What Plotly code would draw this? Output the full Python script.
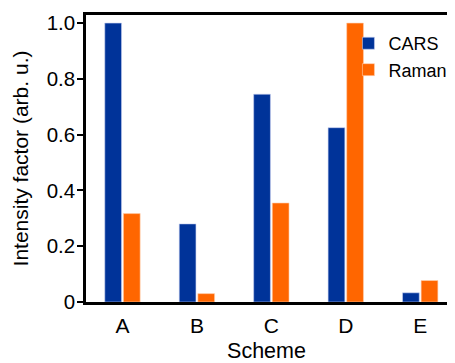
import plotly.graph_objects as go

categories = ["A", "B", "C", "D", "E"]
cars = [1.0, 0.28, 0.745, 0.625, 0.033]
raman = [0.317, 0.03, 0.355, 1.0, 0.077]
ytick_vals = [0, 0.2, 0.4, 0.6, 0.8, 1.0]
ytick_text = ["0", "0.2", "0.4", "0.6", "0.8", "1.0"]

font = "Liberation Sans, Arial, sans-serif"

fig = go.Figure()
fig.add_trace(go.Bar(x=categories, y=cars, name="CARS",
                     marker=dict(color="#003399", line=dict(color="#c8d0f0", width=0.6))))
fig.add_trace(go.Bar(x=categories, y=raman, name="Raman",
                     marker=dict(color="#FF6600", line=dict(color="#ffd0b0", width=0.6))))

fig.update_layout(
    width=447, height=363,
    margin=dict(l=86, r=0, t=15, b=61, autoexpand=False),
    paper_bgcolor="white", plot_bgcolor="white",
    barmode="group", bargap=0.5, bargroupgap=0.1,
    font=dict(family=font, color="black", size=20),
    legend=dict(x=0.727, y=0.965, xanchor="left", yanchor="top",
                font=dict(size=18), bgcolor="rgba(0,0,0,0)",
                tracegroupgap=0, itemwidth=30),
    showlegend=True,
)
fig.update_xaxes(
    range=[-0.49, 4.36], showline=True, linecolor="black", linewidth=2.5,
    mirror=True, ticks="", showgrid=False, zeroline=False,
    tickfont=dict(size=21), ticklabelstandoff=3,
    title=dict(text="Scheme", font=dict(size=21.5), standoff=8),
)
fig.update_yaxes(
    range=[0, 1.029], showline=True, linecolor="black", linewidth=2.5,
    ticks="outside", ticklen=6, tickwidth=2, tickcolor="black",
    tickvals=ytick_vals, ticktext=ytick_text,
    showgrid=False, zeroline=False, tickfont=dict(size=20.5),
    ticklabelstandoff=-2,
    title=dict(text="Intensity factor (arb. u.)", font=dict(size=21), standoff=13),
)

fig.write_html(
    "out.html",
    config={"displayModeBar": False},
    post_script=(
        "document.body.style.margin='0';document.body.style.overflow='hidden';"
        "document.documentElement.style.overflow='hidden';"
    ),
)
